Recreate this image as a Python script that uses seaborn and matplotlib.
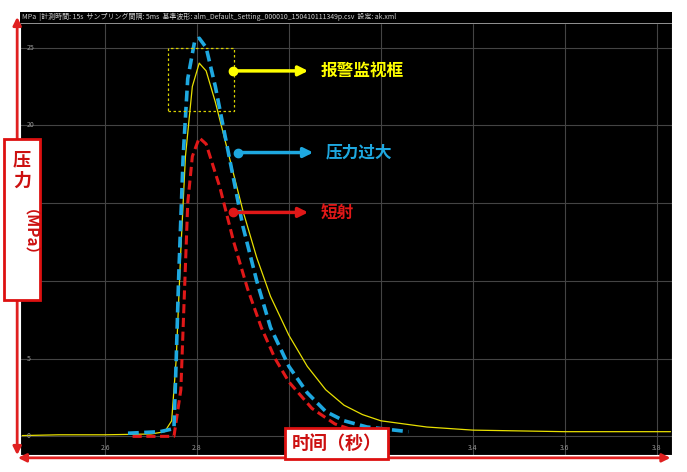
import numpy as np
import pandas as pd
import matplotlib
matplotlib.use("Agg")
import matplotlib.pyplot as plt
import seaborn as sns

sns.set_style("dark")
plt.rcParams["font.family"] = ["Noto Sans CJK SC", "DejaVu Sans"]

# monitored curve (yellow)
x_yellow = [2.42, 2.5, 2.6, 2.7, 2.73, 2.745, 2.755, 2.765, 2.775, 2.79, 2.805, 2.82, 2.84, 2.87,
            2.9, 2.93, 2.96, 3.0, 3.04, 3.08, 3.12, 3.16, 3.2, 3.3, 3.4, 3.6, 3.83]
y_yellow = [0.05, 0.1, 0.1, 0.15, 0.3, 1, 5, 12, 18, 22.5, 24, 23.5, 21.5, 18,
            14.5, 11.5, 9, 6.5, 4.5, 3, 2, 1.4, 1.0, 0.6, 0.4, 0.3, 0.3]
# over-pressure curve (blue)
x_blue = [2.65, 2.72, 2.75, 2.755, 2.76, 2.77, 2.78, 2.795, 2.805, 2.82, 2.84, 2.87, 2.9,
          2.93, 2.96, 3.0, 3.04, 3.08, 3.12, 3.17, 3.26]
y_blue = [0.2, 0.3, 0.5, 5, 10, 18, 23, 25.4, 25.6, 25, 22.5, 18, 13.5,
          10, 7, 4.5, 2.8, 1.6, 1.0, 0.6, 0.3]
# short shot curve (red)
x_red = [2.66, 2.75, 2.765, 2.78, 2.79, 2.805, 2.82, 2.85, 2.88, 2.91, 2.94, 2.97,
         3.0, 3.05, 3.1, 3.15, 3.2]
y_red = [0.0, 0.0, 3, 15, 18, 19.2, 18.8, 16, 12.5, 9.5, 7, 5,
         3.5, 1.8, 0.8, 0.3, 0.1]

x_ticks = [2.6, 2.8, 3.0, 3.2, 3.4, 3.6, 3.8]
x_tick_labels = ["2.6", "2.8", "", "", "3.4", "3.6", "3.8"]
y_ticks = [0, 5, 10, 15, 20, 25]

box_x = [2.737, 2.880]
box_y = [20.9, 25.0]

labels = ["报警监视框", "压力过大", "短射"]
label_pts = [(2.878, 23.5), (2.889, 18.25), (2.878, 14.4)]
label_cols = ["#ffff00", "#1ea8e0", "#e01818"]

fig = plt.figure(figsize=(6.87, 4.72), dpi=100)
ax = fig.add_axes([0.029, 0.036, 0.949, 0.939])
ax.set_facecolor("black")
ax.set_xlim(2.415, 3.833)
ax.set_ylim(-1.2, 27.3)

for t in x_ticks:
    ax.axvline(t, color="#444444", lw=0.8, zorder=0)
for t in y_ticks:
    ax.axhline(t, color="#444444", lw=0.8, zorder=0)
ax.grid(False)
ax.set_xticks([])
ax.set_yticks([])
for t in y_ticks:
    ax.text(2.43, t, str(t), color="#999999", fontsize=5, va="center")
for t, l in zip(x_ticks, x_tick_labels):
    ax.text(t, -0.75, l, color="#999999", fontsize=5, ha="center", va="center")

sns.lineplot(x=x_yellow, y=y_yellow, color="#e8e000", lw=0.9, ax=ax)
sns.lineplot(x=x_red, y=y_red, color="#e01818", lw=2.2, ax=ax)
sns.lineplot(x=x_blue, y=y_blue, color="#1ea8e0", lw=2.6, ax=ax)
ax.lines[-1].set_dashes((3, 1.5))
ax.lines[-2].set_dashes((3, 1.5))

ax.plot([box_x[0], box_x[1], box_x[1], box_x[0], box_x[0]],
        [box_y[0], box_y[0], box_y[1], box_y[1], box_y[0]],
        color="#d8d000", lw=0.9, ls=(0, (2, 2)))

for lab, (px, py), c in zip(labels, label_pts, label_cols):
    ax.plot(px, py, "o", color=c, ms=6)
    ax.annotate("", xy=(px + 0.17, py), xytext=(px, py),
                arrowprops=dict(arrowstyle="-|>", color=c, lw=2.5, mutation_scale=14))
    ax.text(px + 0.19, py, lab, color=c, fontsize=12, fontweight="bold", va="center")

# header band
ax.axhspan(26.6, 27.3, color="black", zorder=5)
ax.axhline(26.6, color="#aaaaaa", lw=0.6, zorder=6)
ax.text(2.42, 26.95, "MPa  |計測時間: 15s  サンプリング間隔: 5ms  基準波形: alm_Default_Setting_000010_150410111349p.csv  設定: ak.xml",
        color="#cccccc", fontsize=5, va="center", zorder=7)

# red arrows and label boxes in figure coordinates
fig.patches.append(matplotlib.patches.FancyArrowPatch((0.025, 0.03), (0.025, 0.97), transform=fig.transFigure,
                   arrowstyle="<|-|>", color="#e02020", lw=2, mutation_scale=12))
fig.patches.append(matplotlib.patches.FancyArrowPatch((0.022, 0.03), (0.98, 0.03), transform=fig.transFigure,
                   arrowstyle="<|-|>", color="#e02020", lw=2, mutation_scale=12))
fig.patches.append(matplotlib.patches.Rectangle((0.006, 0.365), 0.052, 0.34, transform=fig.transFigure,
                   facecolor="white", edgecolor="#dd1010", lw=2, zorder=10))
fig.text(0.032, 0.64, "压\n力", color="#cc1010", fontsize=13, fontweight="bold", ha="center", va="center",
         linespacing=1.1, zorder=11)
fig.text(0.032, 0.49, "（MPa）", color="#cc1010", fontsize=11, fontweight="bold", ha="center", va="center",
         rotation=-90, zorder=11)
fig.text(0.49, 0.06, "时间（秒）", color="#cc1010", fontsize=13, fontweight="bold", ha="center", va="center",
         bbox=dict(facecolor="white", edgecolor="#dd1010", lw=2, boxstyle="square,pad=0.35"))

fig.savefig("out.png", dpi=100, facecolor="white")
